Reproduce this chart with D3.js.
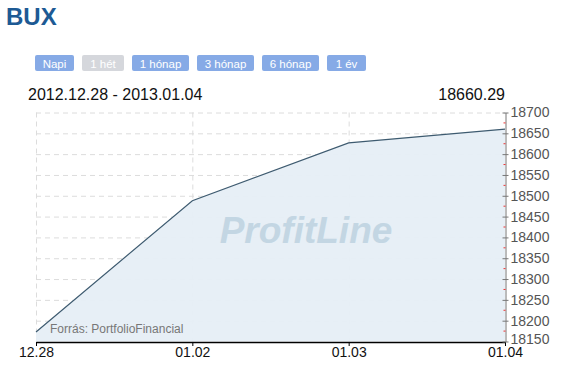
<!DOCTYPE html>
<html><head><meta charset="utf-8">
<script src="https://cdn.jsdelivr.net/npm/d3@7"></script>
<style>body{margin:0;background:#fff;}svg{display:block;}</style>
</head><body>
<svg id="c" width="562" height="366"></svg>
<script>
const categories = ["12.28", "01.02", "01.03", "01.04"];
const values = [18173, 18488, 18627, 18660.29];
const yTicks = [18150, 18200, 18250, 18300, 18350, 18400, 18450, 18500, 18550, 18600, 18650, 18700];
const buttons = ["Napi", "1 hét", "1 hónap", "3 hónap", "6 hónap", "1 év"];
const buttonActive = [true, false, true, true, true, true];
const title = "BUX";
const rangeText = "2012.12.28 - 2013.01.04";
const lastValue = "18660.29";
const source = "Forrás: PortfolioFinancial";
const watermark = "ProfitLine";

const svg = d3.select("#c");
const F = "Arial, 'Liberation Sans', sans-serif";
const L = 36, R = 505, T = 112.5, B = 341.5;
const x = d3.scalePoint().domain(categories).range([L, R]);
const y = d3.scaleLinear().domain([18150, 18700]).range([B, T]);

svg.append("text").attr("x", 6).attr("y", 25).text(title)
  .attr("font-family", F).attr("font-weight", "bold").attr("font-size", 24).attr("fill", "#1d5a94");

// buttons
const bx = [35, 82, 132, 197, 262, 327];
const bw = [39, 42, 57, 57, 57, 39];
const bg = svg.append("g");
buttons.forEach((b, i) => {
  const active = buttonActive[i];
  bg.append("rect").attr("x", bx[i]).attr("y", 55).attr("width", bw[i]).attr("height", 16).attr("rx", 2)
    .attr("fill", active ? "#86aae6" : "#d5d7dc");
  bg.append("text").attr("x", bx[i] + bw[i] / 2).attr("y", 67.5).attr("text-anchor", "middle")
    .attr("font-family", F).attr("font-size", 11.5).attr("fill", "#fff").text(b);
});

svg.append("text").attr("x", 28).attr("y", 100).text(rangeText)
  .attr("font-family", F).attr("font-size", 16).attr("fill", "#111");
svg.append("text").attr("x", 505).attr("y", 100).attr("text-anchor", "end").text(lastValue)
  .attr("font-family", F).attr("font-size", 16).attr("fill", "#111");

// grid
const grid = svg.append("g").attr("stroke", "#dcdcdc").attr("stroke-dasharray", "5,4");
yTicks.forEach(t => {
  if (t === 18150) return;
  grid.append("line").attr("x1", L).attr("x2", R).attr("y1", y(t) + 0.5).attr("y2", y(t) + 0.5);
});
categories.forEach(c => {
  if (c === categories[categories.length - 1]) return;
  grid.append("line").attr("x1", x(c) + 0.5).attr("x2", x(c) + 0.5).attr("y1", T).attr("y2", B);
});

// area & line
const area = d3.area().x((d, i) => x(categories[i])).y0(B).y1(d => y(d));
const line = d3.line().x((d, i) => x(categories[i])).y(d => y(d));
svg.append("path").datum(values).attr("d", area).attr("fill", "#e6eef6").attr("fill-opacity", 0.95);

svg.append("text").attr("x", 306).attr("y", 243).attr("text-anchor", "middle").text(watermark)
  .attr("font-family", F).attr("font-weight", "bold").attr("font-style", "italic").attr("font-size", 37)
  .attr("fill", "#c3d6e3");

svg.append("path").datum(values).attr("d", line).attr("fill", "none").attr("stroke", "#3e5b70").attr("stroke-width", 1.2);

svg.append("text").attr("x", 50).attr("y", 333).text(source)
  .attr("font-family", F).attr("font-size", 12).attr("fill", "#777");

// bottom axis
const xa = svg.append("g").attr("transform", `translate(0,${B + 0.5})`)
  .call(d3.axisBottom(x).tickSize(4).tickSizeOuter(0));
xa.select(".domain").attr("stroke", "#000").attr("stroke-width", 1.5);
xa.selectAll(".tick line").attr("stroke", "#000");
xa.selectAll("text").attr("font-family", F).attr("font-size", 14).attr("fill", "#111").attr("dy", "0.6em");

// right axis
const ya = svg.append("g").attr("transform", `translate(${R + 0.5},0)`)
  .call(d3.axisRight(y).tickValues(yTicks).tickSize(3).tickSizeOuter(0).tickFormat(d3.format("d")));
ya.select(".domain").attr("stroke", "#777");
ya.selectAll(".tick line").attr("stroke", "#777").attr("x1", -3);
ya.selectAll("text").attr("font-family", F).attr("font-size", 14).attr("fill", "#555").attr("x", 5)
  .attr("dy", d => d === 18150 ? "0.15em" : "0.32em");
// minor red ticks
const minor = yTicks.slice(1).map(t => t - 25);
ya.selectAll(".minor").data(minor).enter().append("line")
  .attr("x1", -2).attr("x2", 0).attr("y1", d => y(d)).attr("y2", d => y(d)).attr("stroke", "#e33");
</script>
</body></html>
